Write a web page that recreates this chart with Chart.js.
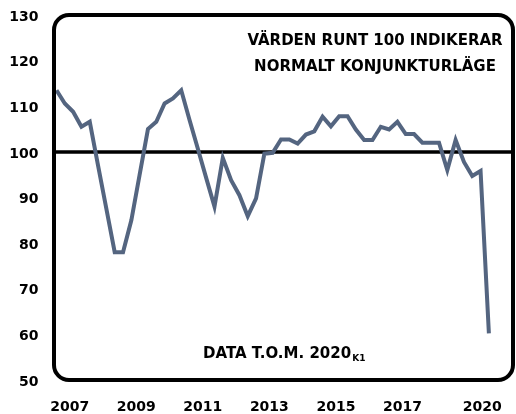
<!DOCTYPE html>
<html>
<head>
<meta charset="utf-8">
<script src="https://cdn.jsdelivr.net/npm/chart.js@4/dist/chart.umd.min.js"></script>
<style>
  html, body { margin: 0; padding: 0; background: #fff; }
  #wrap { position: relative; width: 516px; height: 414px; }
</style>
</head>
<body>
<div id="wrap"><canvas id="chart"></canvas></div>
<script>
// quarterly index, 2007K1 .. 2020K1
const quarters = [
  '2007K1','2007K2','2007K3','2007K4','2008K1','2008K2','2008K3','2008K4',
  '2009K1','2009K2','2009K3','2009K4','2010K1','2010K2','2010K3','2010K4',
  '2011K1','2011K2','2011K3','2011K4','2012K1','2012K2','2012K3','2012K4',
  '2013K1','2013K2','2013K3','2013K4','2014K1','2014K2','2014K3','2014K4',
  '2015K1','2015K2','2015K3','2015K4','2016K1','2016K2','2016K3','2016K4',
  '2017K1','2017K2','2017K3','2017K4','2018K1','2018K2','2018K3','2018K4',
  '2019K1','2019K2','2019K3','2019K4','2020K1'
];
const indexValues = [
  113.5, 110.6, 108.8, 105.5, 106.6, 97, 87.5, 78,
  78, 85, 95, 105, 106.6, 110.6, 111.7, 113.5,
  107, 100.7, 94.3, 88, 98.7, 93.8, 90.5, 85.9,
  89.8, 99.6, 99.8, 102.7, 102.7, 101.8, 103.8, 104.5,
  107.7, 105.6, 107.8, 107.8, 104.9, 102.6, 102.6, 105.5,
  104.9, 106.6, 103.9, 103.9, 102, 102, 102, 96,
  102.6, 97.8, 94.7, 95.8, 60.2
];
// year labels and where they sit, in quarters from 2007K1
const yearLabels = ['2007', '2009', '2011', '2013', '2015', '2017', '2020'];
const yearTickPos = [1.6, 9.6, 17.6, 25.6, 33.6, 41.6, 51.2];
const refValue = 100;
const noteLines = ['VÄRDEN RUNT 100 INDIKERAR', 'NORMALT KONJUNKTURLÄGE'];
const dataNote = 'DATA T.O.M. 2020';
const dataNoteSub = 'K1';

const FONT = '"DejaVu Sans", sans-serif';

const frame = {
  id: 'frame',
  beforeDatasetsDraw(chart) {
    const { ctx, chartArea: a, scales: { y } } = chart;
    const yy = y.getPixelForValue(refValue);
    ctx.save();
    ctx.strokeStyle = '#000';
    ctx.lineWidth = 3.5;
    ctx.beginPath();
    ctx.moveTo(a.left, yy);
    ctx.lineTo(a.right, yy);
    ctx.stroke();
    ctx.restore();
  },
  afterDatasetsDraw(chart) {
    const { ctx, chartArea: a } = chart;
    ctx.save();
    ctx.strokeStyle = '#000';
    ctx.lineWidth = 4;
    ctx.beginPath();
    ctx.roundRect(a.left, a.top, a.right - a.left, a.bottom - a.top, 15);
    ctx.stroke();

    ctx.fillStyle = '#000';
    ctx.font = 'bold 15px ' + FONT;
    ctx.textAlign = 'center';
    ctx.textBaseline = 'middle';
    ctx.fillText(noteLines[0], 375, 41);
    ctx.fillText(noteLines[1], 375, 67);

    ctx.textAlign = 'left';
    ctx.fillText(dataNote, 203, 354);
    const w = ctx.measureText(dataNote).width;
    ctx.font = 'bold 9px ' + FONT;
    ctx.fillText(dataNoteSub, 203 + w + 1, 359);
    ctx.restore();
  }
};

new Chart(document.getElementById('chart'), {
  type: 'line',
  data: {
    labels: quarters,
    datasets: [{
      data: indexValues.map((v, i) => ({ x: i, y: v })),
      borderColor: '#546580',
      borderWidth: 4,
      pointRadius: 0,
      tension: 0,
      fill: false
    }]
  },
  options: {
    responsive: true,
    maintainAspectRatio: false,
    animation: false,
    layout: { padding: { top: 15, right: 3, left: 0, bottom: 0 } },
    plugins: { legend: { display: false }, tooltip: { enabled: false } },
    scales: {
      x: {
        type: 'linear',
        min: -0.3,
        max: 54.9,
        grid: { display: false, drawTicks: false },
        border: { display: false },
        afterFit: s => { s.height = 34; s.paddingLeft = 0; s.paddingRight = 0; },
        afterBuildTicks: s => { s.ticks = yearTickPos.map(v => ({ value: v })); },
        ticks: {
          autoSkip: false,
          maxRotation: 0,
          padding: 19,
          color: '#000',
          font: { family: FONT, size: 14, weight: 'bold' },
          callback: (v, i) => yearLabels[i]
        }
      },
      y: {
        min: 50,
        max: 130,
        grid: { display: false, drawTicks: false },
        border: { display: false },
        afterFit: s => { s.width = 54; s.paddingTop = 0; s.paddingBottom = 0; },
        ticks: {
          stepSize: 10,
          padding: 15.5,
          labelOffset: 2,
          color: '#000',
          font: { family: FONT, size: 14, weight: 'bold' }
        }
      }
    }
  },
  plugins: [frame]
});
</script>
</body>
</html>
